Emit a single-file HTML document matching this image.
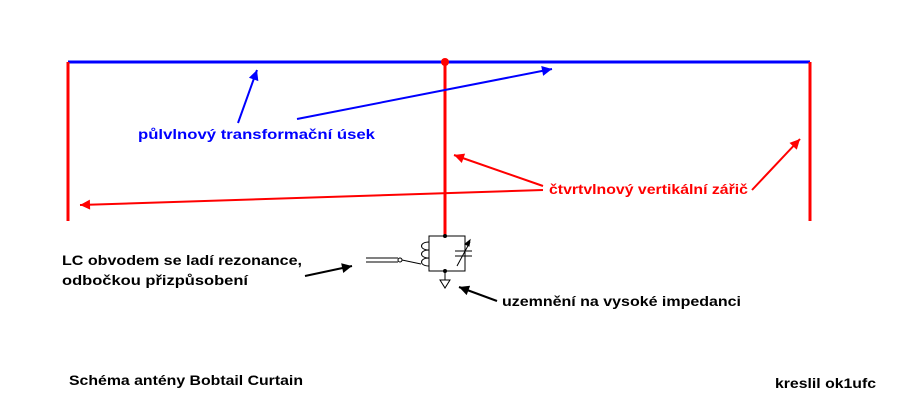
<!DOCTYPE html>
<html><head><style>body{margin:0;background:#fff}svg{display:block}text{font-family:"Liberation Sans",Arial,sans-serif;font-size:14px;font-weight:bold}</style></head>
<body>
<svg width="900" height="410" viewBox="0 0 900 410" xmlns="http://www.w3.org/2000/svg">
<defs>
<marker id="ab" viewBox="0 0 10 10" refX="10" refY="5" markerWidth="14" markerHeight="10" markerUnits="userSpaceOnUse" orient="auto"><path d="M0,0L10,5L0,10z" fill="blue"/></marker>
<marker id="ar" viewBox="0 0 10 10" refX="10" refY="5" markerWidth="14" markerHeight="10" markerUnits="userSpaceOnUse" orient="auto"><path d="M0,0L10,5L0,10z" fill="red"/></marker>
<marker id="ak" viewBox="0 0 10 10" refX="10" refY="5" markerWidth="14" markerHeight="10" markerUnits="userSpaceOnUse" orient="auto"><path d="M0,0L10,5L0,10z" fill="#000"/></marker>
</defs>
<line x1="68" y1="62" x2="810" y2="62" stroke="blue" stroke-width="3"/>
<line x1="68" y1="62" x2="68" y2="221" stroke="red" stroke-width="3"/>
<line x1="810" y1="62" x2="810" y2="221" stroke="red" stroke-width="3"/>
<line x1="445" y1="62" x2="445" y2="236" stroke="red" stroke-width="3"/>
<circle cx="445" cy="62" r="4" fill="red"/>
<line x1="238" y1="123" x2="257" y2="70" stroke="blue" stroke-width="2" marker-end="url(#ab)"/>
<line x1="297" y1="119" x2="552" y2="69" stroke="blue" stroke-width="2" marker-end="url(#ab)"/>
<text x="138" y="139" fill="blue" textLength="237" lengthAdjust="spacingAndGlyphs">půlvlnový transformační úsek</text>
<line x1="543" y1="186" x2="454" y2="155" stroke="red" stroke-width="2" marker-end="url(#ar)"/>
<line x1="543" y1="190" x2="80" y2="205" stroke="red" stroke-width="2" marker-end="url(#ar)"/>
<line x1="752" y1="190" x2="800" y2="139" stroke="red" stroke-width="2" marker-end="url(#ar)"/>
<text x="549" y="194" fill="red" textLength="199" lengthAdjust="spacingAndGlyphs">čtvrtvlnový vertikální zářič</text>
<g stroke="#000" stroke-width="1" fill="none">
<path d="M429,236H465V271H429Z"/>
<path d="M429,242c-10,0-10,8,0,8c-10,0-10,8,0,8c-10,0-10,8,0,8"/>
<line x1="366" y1="258" x2="398" y2="258"/><line x1="366" y1="262" x2="398" y2="262"/>
<circle cx="400" cy="260" r="2"/>
<line x1="402" y1="260" x2="421" y2="264"/>
<line x1="455" y1="251" x2="472" y2="251"/><line x1="455" y1="256" x2="472" y2="256"/>
<line x1="457" y1="266" x2="470" y2="242"/>
<path d="M470,240l-5,4l4,2z" fill="#000"/>
<line x1="445" y1="271" x2="445" y2="280"/>
<path d="M440,280H450L445,288Z"/>
</g>
<circle cx="445" cy="236" r="2" fill="#000"/>
<circle cx="445" cy="271" r="2" fill="#000"/>
<line x1="305" y1="276" x2="352" y2="266" stroke="#000" stroke-width="2" marker-end="url(#ak)"/>
<line x1="497" y1="301" x2="459" y2="287" stroke="#000" stroke-width="2" marker-end="url(#ak)"/>
<text x="62" y="265" textLength="240" lengthAdjust="spacingAndGlyphs">LC obvodem se ladí rezonance,</text>
<text x="62" y="285" textLength="186" lengthAdjust="spacingAndGlyphs">odbočkou přizpůsobení</text>
<text x="502" y="306" textLength="239" lengthAdjust="spacingAndGlyphs">uzemnění na vysoké impedanci</text>
<text x="69" y="385" textLength="234" lengthAdjust="spacingAndGlyphs">Schéma antény Bobtail Curtain</text>
<text x="775" y="388" textLength="101" lengthAdjust="spacingAndGlyphs">kreslil ok1ufc</text>
</svg>
</body></html>
